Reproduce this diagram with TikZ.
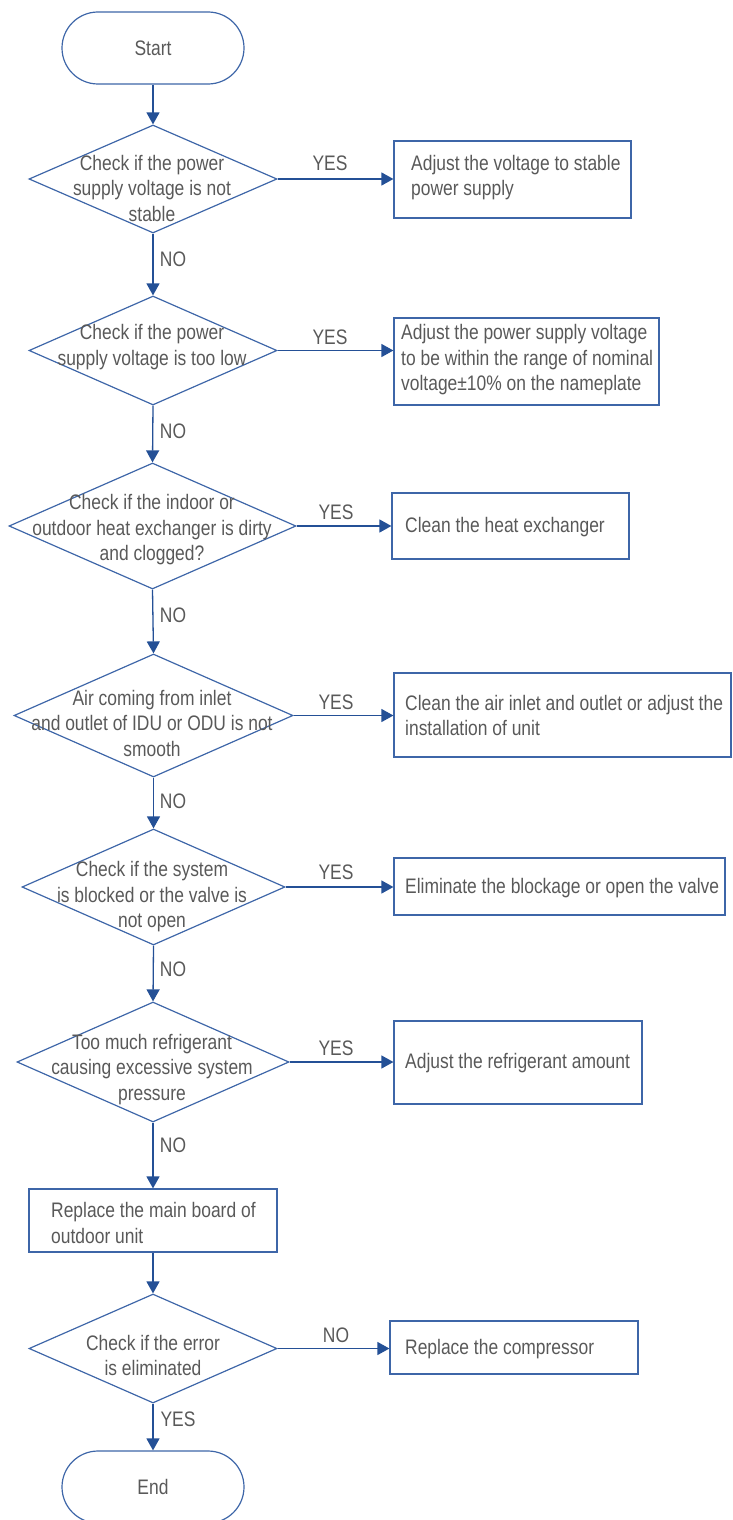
\documentclass[tikz,border=0pt]{standalone}
\usepackage{fontspec}
\setmainfont{Liberation Sans}[FakeStretch=0.83]
\usetikzlibrary{shapes.geometric,arrows.meta}
\definecolor{lineblue}{RGB}{36,80,150}
\definecolor{boxblue}{RGB}{62,102,168}
\definecolor{txtgray}{RGB}{89,89,89}
\begin{document}
\begin{tikzpicture}[x=1pt,y=-1pt,
  every node/.style={font=\fontsize{21}{25.5}\selectfont, text=txtgray},
  term/.style={draw=boxblue, line width=1.2pt, rectangle, rounded corners=36pt, minimum width=182pt, minimum height=72pt, inner sep=0pt},
  dia/.style={draw=boxblue, diamond, line width=1.2pt, inner sep=0pt},
  proc/.style={draw=boxblue, rectangle, line width=1.2pt, inner sep=0pt},
  lbl/.style={inner sep=0pt},
  txtc/.style={align=center, inner sep=0pt},
  txtl/.style={align=left, inner sep=0pt, anchor=west},
  arr/.style={draw=lineblue, line width=1.3pt, -{Triangle[length=12pt,width=13pt]}}]
\useasboundingbox (0,0) rectangle (732,1520);

% terminals
\node[term] (start) at (153,48) {Start};
\node[term] (end) at (153,1487) {End};

% decisions
\node[dia, minimum width=248pt, minimum height=108pt] (d1) at (153,179) {};
\node[txtc] (t1) at (152,188) {Check if the power\\supply voltage is not\\stable};
\node[dia, minimum width=248pt, minimum height=109pt] (d2) at (153,350.5) {};
\node[txtc] (t2) at (152,347) {Check if the power\\supply voltage is too low};
\node[dia, minimum width=287pt, minimum height=126pt] (d3) at (152.5,526) {};
\node[txtc] (t3) at (152,530) {Check if the indoor or\\outdoor heat exchanger is dirty\\and clogged?};
\node[dia, minimum width=279pt, minimum height=123pt] (d4) at (153.5,715.5) {};
\node[txtc] (t4) at (152,723) {Air coming from inlet\\and outlet of IDU or ODU is not\\smooth};
\node[dia, minimum width=263pt, minimum height=116pt] (d5) at (153.5,887) {};
\node[txtc] (t5) at (152,897) {Check if the system\\is blocked or the valve is\\not open};
\node[dia, minimum width=272pt, minimum height=120pt] (d6) at (153,1062) {};
\node[txtc] (t6) at (152,1069.5) {Too much refrigerant\\causing excessive system\\pressure};
\node[dia, minimum width=248pt, minimum height=109pt] (d7) at (153,1348.5) {};
\node[txtc] (t7) at (153,1355.5) {Check if the error\\is eliminated};

% process boxes
\node[proc, minimum width=237pt, minimum height=77pt] (b1) at (512.5,179.5) {};
\node[txtl] (tb1) at (411,177.5) {Adjust the voltage to stable\\power supply};
\node[proc, minimum width=265pt, minimum height=87pt] (b2) at (526.5,361.5) {};
\node[txtl] (tb2) at (401,360) {Adjust the power supply voltage\\to be within the range of nominal\\voltage±10\% on the nameplate};
\node[proc, minimum width=237pt, minimum height=66pt] (b3) at (510.5,526) {};
\node[txtl] (tb3) at (405,527) {Clean the heat exchanger};
\node[proc, minimum width=337pt, minimum height=84pt] (b4) at (562.5,715) {};
\node[txtl] (tb4) at (405,715.5) {Clean the air inlet and outlet or adjust the\\installation of unit};
\node[proc, minimum width=331pt, minimum height=57pt] (b5) at (559.5,886.5) {};
\node[txtl] (tb5) at (405,888) {Eliminate the blockage or open the valve};
\node[proc, minimum width=248pt, minimum height=83pt] (b6) at (518,1062.5) {};
\node[txtl] (tb6) at (405,1063) {Adjust the refrigerant amount};
\node[proc, minimum width=248pt, minimum height=63pt] (b7) at (153,1220.5) {};
\node[txtl] (tb7) at (51,1223) {Replace the main board of\\outdoor unit};
\node[proc, minimum width=248pt, minimum height=53pt] (b8) at (514,1347.5) {};
\node[txtl] (tb8) at (405,1349) {Replace the compressor};

% vertical connectors
\draw[arr] (start.south) -- (d1.north);
\draw[arr] (d1.south) -- (d2.north);
\draw[arr] (d2.south) -- (d3.north);
\draw[arr] (d3.south) -- (d4.north);
\draw[arr] (d4.south) -- (d5.north);
\draw[arr] (d5.south) -- (d6.north);
\draw[arr] (d6.south) -- (b7.north);
\draw[arr] (b7.south) -- (d7.north);
\draw[arr] (d7.south) -- (end.north);

% horizontal connectors
\draw[arr] (d1.east) -- (b1.west |- d1.east);
\draw[arr] (d2.east) -- (b2.west |- d2.east);
\draw[arr] (d3.east) -- (b3.west |- d3.east);
\draw[arr] (d4.east) -- (b4.west |- d4.east);
\draw[arr] (d5.east) -- (b5.west |- d5.east);
\draw[arr] (d6.east) -- (b6.west |- d6.east);
\draw[arr] (d7.east) -- (b8.west |- d7.east);

% labels
\node[lbl] (y1) at (330,163) {YES};
\node[lbl] (y2) at (330,337) {YES};
\node[lbl] (y3) at (336,512) {YES};
\node[lbl] (y4) at (336,702) {YES};
\node[lbl] (y5) at (336,872) {YES};
\node[lbl] (y6) at (336,1048) {YES};
\node[lbl] (n7) at (336,1335) {NO};
\node[lbl] (n1) at (173,259) {NO};
\node[lbl] (n2) at (173,431) {NO};
\node[lbl] (n3) at (173,615) {NO};
\node[lbl] (n4) at (173,801) {NO};
\node[lbl] (n5) at (173,969) {NO};
\node[lbl] (n6) at (173,1145) {NO};
\node[lbl] (y7) at (178,1419) {YES};
\end{tikzpicture}
\end{document}
